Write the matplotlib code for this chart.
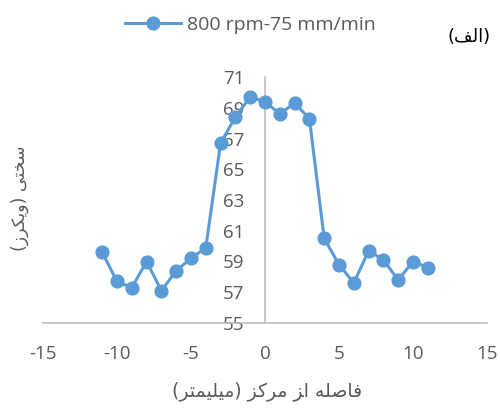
import matplotlib
matplotlib.use("Agg")
import matplotlib.pyplot as plt
from matplotlib.lines import Line2D

# Data
distance = [-11, -10, -9, -8, -7, -6, -5, -4, -3, -2, -1, 0, 1, 2, 3, 4, 5, 6, 7, 8, 9, 10, 11]
hardness = [59.6, 57.7, 57.3, 59.0, 57.1, 58.4, 59.2, 59.9, 66.7, 68.4, 69.7, 69.4,
            68.6, 69.3, 68.3, 60.5, 58.8, 57.6, 59.7, 59.1, 57.8, 59.0, 58.6]
series_label = "800 rpm-75 mm/min"
x_ticks = [-15, -10, -5, 0, 5, 10, 15]
y_ticks = [55, 57, 59, 61, 63, 65, 67, 69, 71]

# Persian labels in visual (pre-shaped) order, since matplotlib has no bidi/shaping
y_title = "(\uFEAF\uFEAE\uFB91\uFEF3\uFEED) \uFEF0\uFE98\uFEA8\uFEB3"
x_title = ("(\uFEAE\uFE98\uFEE4\uFEF4\uFEE0\uFEF4\uFEE3) \uFEB0\uFB90\uFEAE\uFEE3 "
           "\uFEB0\uFE8D \uFEEA\uFEE0\uFEBB\uFE8E\uFED3")
panel_title = "(\uFED2\uFEDF\uFE8D)"

BLUE = "#5B9BD5"
GREY_TXT = "#595959"
AXIS = "#BFBFBF"
num_font = ["Open Sans", "DejaVu Sans"]
ar_font = ["DejaVu Sans"]

fig = plt.figure(figsize=(5.0, 4.09), dpi=100)
ax = fig.add_axes([43/500, 1-323/409, (487-43)/500, (323-77)/409])

for s in ["top", "right"]:
    ax.spines[s].set_visible(False)
ax.spines["left"].set_position(("data", 0))
ax.spines["left"].set_color(AXIS)
ax.spines["bottom"].set_color(AXIS)
ax.spines["left"].set_linewidth(1.2)
ax.spines["bottom"].set_linewidth(1.2)
ax.patch.set_alpha(0)

ax.plot(distance, hardness, color=BLUE, lw=2.2, marker="o", ms=9.2,
        markerfacecolor=BLUE, markeredgecolor=BLUE, clip_on=False, zorder=3)

ax.set_xlim(-15, 15)
ax.set_ylim(55, 71)
ax.set_xticks(x_ticks)
ax.set_yticks(y_ticks)
ax.set_xticklabels([str(v) for v in x_ticks], family=num_font, fontsize=13.5, color=GREY_TXT)
ax.set_yticklabels([str(v) for v in y_ticks], family=num_font, fontsize=13.5, color=GREY_TXT)
ax.tick_params(axis="both", length=0)
ax.tick_params(axis="x", pad=16)
ax.tick_params(axis="y", pad=15)

fig.text(20/500, 1-198/409, y_title, rotation=90, ha="center", va="center",
         family=ar_font, fontsize=12.5, color=GREY_TXT)
fig.text(267/500, 1-391/409, x_title, ha="center", va="center",
         family=ar_font, fontsize=13.5, color=GREY_TXT)
fig.text(469/500, 1-37/409, panel_title, ha="center", va="center",
         family=ar_font, fontsize=13, color="black")

handle = Line2D([], [], color=BLUE, lw=2.2, marker="o", ms=9.2)
leg = fig.legend([handle], [series_label], loc="center", bbox_to_anchor=(250/500, 1-25/409),
                 frameon=False, prop={"family": num_font, "size": 14},
                 handlelength=2.9, handletextpad=0.3, borderaxespad=0)
for t in leg.get_texts():
    t.set_color(GREY_TXT)

fig.savefig("out.png", dpi=100)
